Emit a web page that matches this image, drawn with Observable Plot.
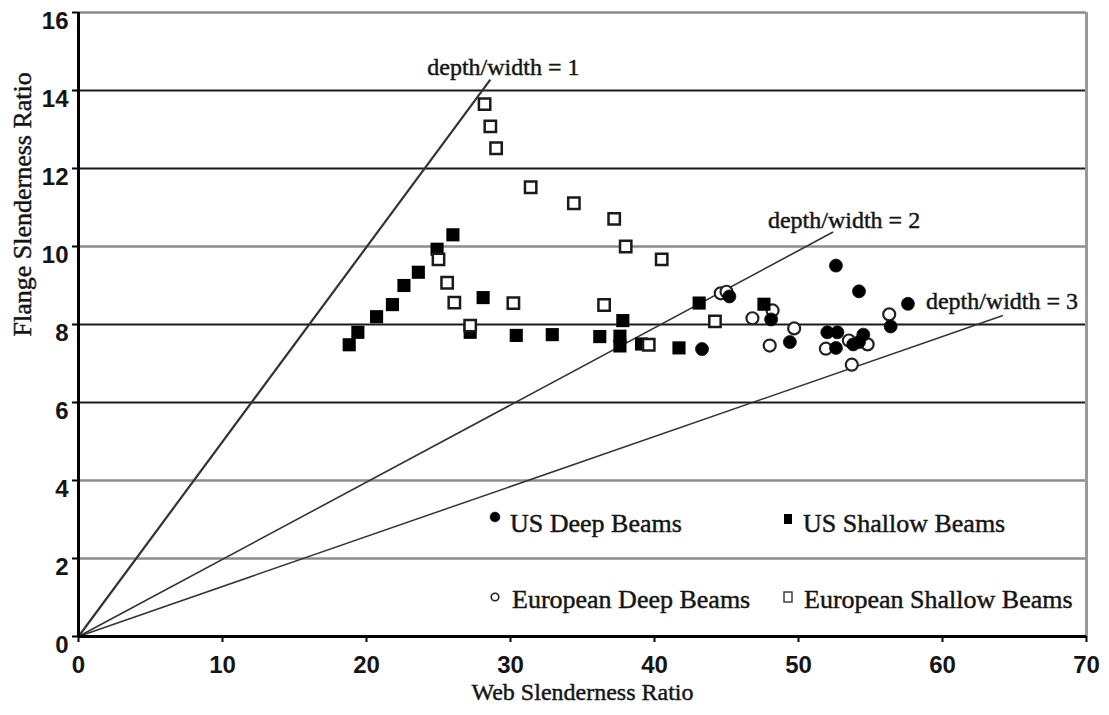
<!DOCTYPE html>
<html><head><meta charset="utf-8">
<script src="https://cdn.jsdelivr.net/npm/d3@7"></script>
<script src="https://cdn.jsdelivr.net/npm/@observablehq/plot@0.6"></script>
<style>
body{margin:0;background:#fff}
#wrap{position:relative;width:1109px;height:715px}
#wrap svg.overlay{position:absolute;left:0;top:0;pointer-events:none}
</style></head><body><div id="wrap"></div>
<script>
// ---- data (web slenderness, flange slenderness) ----
const usDeep = [[43.3,7.37],[45.2,8.72],[48.1,8.13],[49.4,7.55],[52.6,9.51],[54.2,8.85],[57.6,8.53],[56.4,7.95],
  [52.0,7.80],[52.7,7.80],[54.5,7.74],[52.6,7.40],[53.8,7.49],[54.2,7.55]];
const usShallow = [[18.8,7.48],[19.4,7.80],[20.7,8.20],[21.8,8.51],[22.6,9.00],[23.6,9.34],[24.9,9.93],[26.0,10.30],
  [27.2,7.80],[28.1,8.69],[30.4,7.72],[32.9,7.74],[36.2,7.69],[37.6,7.70],[37.6,7.45],[37.8,8.10],[39.1,7.50],
  [41.7,7.40],[43.1,8.55],[47.6,8.52]];
const euDeep = [[44.6,8.80],[45.0,8.84],[46.8,8.16],[48.2,8.36],[48.0,7.46],[49.7,7.90],[51.9,7.38],[53.5,7.59],
  [54.8,7.49],[53.7,6.97],[56.3,8.26]];
const euShallow = [[28.2,13.65],[28.6,13.08],[29.0,12.52],[31.4,11.52],[34.4,11.11],[37.2,10.71],[38.0,10.00],
  [40.5,9.67],[25.0,9.67],[25.6,9.07],[26.1,8.56],[30.2,8.55],[36.5,8.50],[27.2,7.97],[39.6,7.48],[44.2,8.08]];
const refLines = [
  {label:"depth/width = 1", x1:0, y1:0, x2:28.6, y2:14.28},
  {label:"depth/width = 2", x1:0, y1:0, x2:52.4, y2:10.37},
  {label:"depth/width = 3", x1:0, y1:0, x2:64.2, y2:8.23}
];
const xTicks = [0,10,20,30,40,50,60,70];
const yTicks = [0,2,4,6,8,10,12,14,16];
const gridDark = [6,8,12,14];
const gridLight = [2,4,10,16];
const xTitle = "Web Slenderness Ratio";
const yTitle = "Flange Slenderness Ratio";
const legendItems = [
  {label:"US Deep Beams", symbol:"circle", filled:true},
  {label:"US Shallow Beams", symbol:"square", filled:true},
  {label:"European Deep Beams", symbol:"circle", filled:false},
  {label:"European Shallow Beams", symbol:"square", filled:false}
];

// ---- styles ----
const serif = "'Liberation Serif','Times New Roman',serif";
const sans = "'Liberation Sans',Arial,sans-serif";
const ink = "#151515";
const labelDx = [13, 11, -1];
const labelDy = [-5, -4, -7];
const lineW = [2.2, 1.6, 1.5];
const heavy = {stroke:ink, strokeWidth:0.45};

const toObj = a => a.map(([x,y]) => ({x,y}));

const chart = Plot.plot({
  width:1109, height:715,
  marginLeft:78, marginRight:23, marginTop:12, marginBottom:79,
  x:{domain:[0,70], label:null},
  y:{domain:[0,16], label:null},
  style:{background:"#fff", color:"#000", fontFamily:serif},
  marks:[
    Plot.ruleY(gridLight, {stroke:"#8c8c8c", strokeWidth:2.5}),
    Plot.ruleY(gridDark, {stroke:"#1a1a1a", strokeWidth:2}),
    Plot.ruleX([70], {stroke:"#9a9a9a", strokeWidth:3}),
    ...refLines.map((d,i) => Plot.link([d], {x1:"x1", y1:"y1", x2:"x2", y2:"y2", stroke:"#333", strokeWidth:lineW[i]})),
    ...refLines.map((d,i) => Plot.text([d], {x:"x2", y:"y2", text:"label", dx:labelDx[i], dy:labelDy[i],
        lineAnchor:"bottom", fontFamily:serif, fontSize:24, fill:ink, ...heavy})),
    Plot.dot(toObj(euDeep), {x:"x", y:"y", symbol:"circle", r:6, stroke:"#222", strokeWidth:2.2, fill:"#fff"}),
    Plot.dot(toObj(usDeep), {x:"x", y:"y", symbol:"circle", r:6.5, fill:"#000", stroke:"#111", strokeWidth:0.8}),
    Plot.dot(toObj(usShallow), {x:"x", y:"y", symbol:"square", r:7.4, fill:"#000"}),
    Plot.dot(toObj(euShallow), {x:"x", y:"y", symbol:"square", r:6.4, stroke:"#1a1a1a", strokeWidth:2.5, fill:"#fff"}),
    Plot.ruleX([0], {stroke:"#000", strokeWidth:3}),
    Plot.ruleY([0], {stroke:"#000", strokeWidth:3}),
    Plot.axisX({ticks:xTicks, tickSize:6, tickPadding:13, strokeWidth:2, fontSize:24, fontWeight:"bold",
        fontFamily:sans, label:null, tickFormat:d=>String(d), fill:ink}),
    Plot.axisY({ticks:yTicks, tickSize:6, strokeWidth:2, fill:"none", label:null}),
    Plot.axisY({ticks:yTicks, tickSize:6, tickPadding:4, dy:9, stroke:"none", fontSize:24, fontWeight:"bold",
        fontFamily:sans, label:null, tickFormat:d=>String(d), fill:ink}),
    Plot.text([xTitle], {frameAnchor:"bottom", dy:63, text:d=>d, fontFamily:serif, fontSize:24, fill:ink, ...heavy}),
    Plot.text([yTitle], {frameAnchor:"left", dx:-56, dy:12, rotate:-90, text:d=>d, fontFamily:serif, fontSize:26, fill:ink, ...heavy})
  ]
});
const wrap = document.getElementById("wrap");
wrap.appendChild(chart);

// ---- legend overlay (inside plot area) ----
const legPos = [{mx:495,my:517,tx:510,ty:532},{mx:788,my:519,tx:803,ty:532},
                {mx:495,my:597,tx:512,ty:608},{mx:788,my:597,tx:804,ty:608}];
const ov = d3.select(wrap).append("svg").attr("class","overlay").attr("width",1109).attr("height",715);
legendItems.forEach((it,i) => {
  const p = legPos[i];
  if (it.symbol === "circle") {
    ov.append("circle").attr("cx",p.mx).attr("cy",p.my).attr("r", it.filled?5:3.8)
      .attr("fill", it.filled?"#000":"#fff").attr("stroke","#222").attr("stroke-width", it.filled?0.5:1.6);
  } else {
    ov.append("rect").attr("x",p.mx-4).attr("y",p.my-5).attr("width",8).attr("height",10)
      .attr("fill", it.filled?"#000":"#fff").attr("stroke", it.filled?"none":"#333").attr("stroke-width",1.4);
  }
  ov.append("text").attr("x",p.tx).attr("y",p.ty).attr("font-family",serif).attr("font-size",26)
    .attr("fill",ink).attr("stroke",ink).attr("stroke-width",0.45).text(it.label);
});
</script></body></html>
